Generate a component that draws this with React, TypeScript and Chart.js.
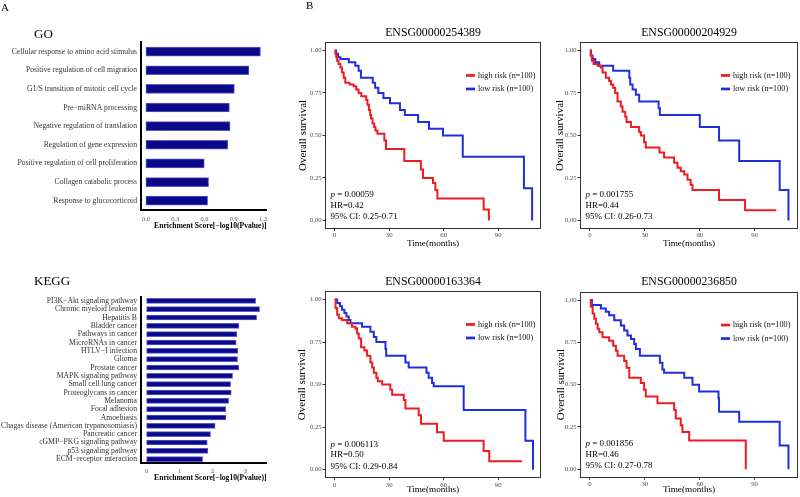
import React, { useEffect, useRef } from 'react';
import { Chart, registerables } from 'chart.js';

Chart.register(...registerables);

const SERIF = "'Liberation Serif', 'Times New Roman', Times, serif";
const RED = '#ec1c22';
const BLUE = '#1f2fdc';
const BAR_FILL = '#09098a';
const BAR_EDGE = '#5a5ac8';

// ---------- Panel A data ----------
const goCategories = [
  'Cellular response to amino acid stimulus',
  'Positive regulation of cell migration',
  'G1/S transition of mitotic cell cycle',
  'Pre\u2212miRNA processing',
  'Negative regulation of translation',
  'Regulation of gene expression',
  'Positive regulation of cell proliferation',
  'Collagen catabolic process',
  'Response to glucocorticoid',
];
const goScores = [1.173, 1.055, 0.906, 0.855, 0.862, 0.838, 0.598, 0.642, 0.632];
const goTicks = [0, 0.3, 0.6, 0.9, 1.2];

const keggCategories = [
  'PI3K\u2212Akt signaling pathway',
  'Chronic myeloid leukemia',
  'Hepatitis B',
  'Bladder cancer',
  'Pathways in cancer',
  'MicroRNAs in cancer',
  'HTLV\u2212I infection',
  'Glioma',
  'Prostate cancer',
  'MAPK signaling pathway',
  'Small cell lung cancer',
  'Proteoglycans in cancer',
  'Melanoma',
  'Focal adhesion',
  'Amoebiasis',
  'Chagas disease (American trypanosomiasis)',
  'Pancreatic cancer',
  'cGMP\u2212PKG signaling pathway',
  'p53 signaling pathway',
  'ECM\u2212receptor interaction',
];
const keggScores = [3.31, 3.43, 3.34, 2.8, 2.74, 2.72, 2.77, 2.76, 2.8, 2.61, 2.55, 2.57, 2.49, 2.4, 2.41, 2.08, 1.94, 1.84, 1.86, 1.7];
const keggTicks = [0, 1, 2, 3];

const enrichTitle = 'Enrichment Score[\u2212log10(Pvalue)]';

// ---------- Panel B data ----------
const kmXTicks = [0, 30, 60, 90];
const kmYTicks = [0, 0.25, 0.5, 0.75, 1];
const seriesLabels = ['high risk (n=100)', 'low risk (n=100)'];

const km1Title = 'ENSG00000254389';
const km1HighT = [0, 0.3, 0.8, 1.3, 2.0, 3.1, 4.0, 4.9, 5.8, 8.2, 10.4, 11.8, 13.1, 14.6, 17.3, 18.0, 18.8, 19.5, 20.0, 20.8, 21.7, 22.4, 23.5, 27.3, 28.2, 38.3, 47.4, 48.6, 54.1, 55.4, 56.5, 82.0, 84.9];
const km1HighS = [1, 0.98, 0.96, 0.94, 0.92, 0.9, 0.87, 0.84, 0.81, 0.8, 0.79, 0.77, 0.75, 0.73, 0.71, 0.68, 0.65, 0.62, 0.6, 0.57, 0.55, 0.53, 0.51, 0.47, 0.42, 0.35, 0.3, 0.25, 0.22, 0.18, 0.13, 0.065, 0];
const km1LowT = [0, 0.7, 1.8, 3.1, 7.7, 11.3, 13.1, 14.4, 20.9, 22.2, 24.0, 26.8, 30.4, 35.9, 38.6, 45.9, 51.9, 59.6, 70.5, 104.2, 108.7];
const km1LowS = [1, 0.98, 0.96, 0.95, 0.93, 0.91, 0.88, 0.84, 0.81, 0.78, 0.75, 0.72, 0.69, 0.65, 0.62, 0.58, 0.54, 0.5, 0.375, 0.19, 0];
const km1Stats = ['0.00059', 'HR=0.42', '95% CI: 0.25-0.71'];

const km2Title = 'ENSG00000204929';
const km2HighT = [0, 0.5, 1.1, 2.0, 4.2, 6.0, 6.9, 8.7, 10.5, 11.5, 12.7, 13.8, 15.1, 16.9, 17.8, 19.3, 20.0, 22.4, 26.9, 27.8, 29.6, 30.5, 38.0, 40.5, 46.0, 47.8, 49.6, 51.5, 53.3, 55.0, 56.0, 70.5, 84.7, 101.8];
const km2HighS = [1, 0.97, 0.94, 0.92, 0.91, 0.9, 0.87, 0.84, 0.82, 0.8, 0.78, 0.75, 0.7, 0.67, 0.64, 0.61, 0.58, 0.55, 0.52, 0.5, 0.46, 0.43, 0.4, 0.37, 0.34, 0.31, 0.29, 0.27, 0.24, 0.21, 0.18, 0.12, 0.06, 0.06];
const km2LowT = [0, 0.5, 1.5, 2.9, 5.1, 12.7, 21.5, 22.0, 23.3, 25.1, 26.9, 37.5, 38.2, 60.0, 70.5, 81.5, 103.6, 108.4];
const km2LowS = [1, 0.97, 0.95, 0.93, 0.91, 0.88, 0.84, 0.8, 0.77, 0.74, 0.7, 0.66, 0.62, 0.55, 0.47, 0.35, 0.18, 0];
const km2Stats = ['0.001755', 'HR=0.44', '95% CI: 0.26-0.73'];

const km3Title = 'ENSG00000163364';
const km3HighT = [0, 0.4, 1.3, 2.2, 4.0, 6.8, 9.5, 11.4, 12.3, 13.2, 14.5, 16.3, 17.8, 19.6, 20.6, 21.5, 22.9, 23.7, 26.1, 30.6, 31.6, 38.0, 38.9, 46.2, 47.5, 56.3, 60.0, 82.0, 85.1, 103.1];
const km3HighS = [1, 0.95, 0.91, 0.89, 0.88, 0.86, 0.84, 0.83, 0.8, 0.77, 0.72, 0.7, 0.67, 0.63, 0.6, 0.57, 0.54, 0.52, 0.5, 0.47, 0.44, 0.41, 0.36, 0.32, 0.27, 0.22, 0.17, 0.11, 0.05, 0.05];
const km3LowT = [0, 1.3, 2.8, 4.0, 5.3, 6.4, 7.7, 8.6, 15.0, 19.6, 21.5, 22.9, 27.9, 28.3, 38.9, 40.7, 50.5, 51.7, 53.6, 54.5, 71.0, 105.0, 109.2];
const km3LowS = [1, 0.98, 0.96, 0.94, 0.92, 0.9, 0.88, 0.86, 0.84, 0.81, 0.78, 0.75, 0.71, 0.67, 0.63, 0.6, 0.57, 0.54, 0.51, 0.49, 0.35, 0.17, 0];
const km3Stats = ['0.006113', 'HR=0.50', '95% CI: 0.29-0.84'];

const km4Title = 'ENSG00000236850';
const km4HighT = [0, 0.5, 1.5, 2.4, 3.3, 4.2, 5.1, 6.9, 10.5, 12.7, 14.2, 15.1, 18.7, 20.0, 21.5, 27.8, 29.6, 30.5, 36.9, 46.0, 46.9, 49.6, 50.5, 54.2, 85.1];
const km4HighS = [1, 0.96, 0.92, 0.89, 0.86, 0.83, 0.81, 0.78, 0.76, 0.73, 0.7, 0.67, 0.64, 0.6, 0.54, 0.51, 0.47, 0.43, 0.39, 0.35, 0.3, 0.26, 0.22, 0.17, 0];
const km4LowT = [0, 1.1, 6.0, 8.7, 10.5, 13.3, 16.9, 18.7, 20.5, 22.4, 24.2, 25.1, 27.3, 38.2, 39.6, 40.5, 51.5, 56.0, 59.6, 70.2, 70.5, 81.5, 103.6, 108.4];
const km4LowS = [1, 0.97, 0.95, 0.93, 0.91, 0.88, 0.85, 0.82, 0.79, 0.77, 0.74, 0.71, 0.67, 0.63, 0.59, 0.57, 0.54, 0.5, 0.46, 0.42, 0.34, 0.28, 0.14, 0];
const km4Stats = ['0.001856', 'HR=0.46', '95% CI: 0.27-0.78'];

// ---------- helpers ----------
type TextItem = { text: string; x: number; y: number; size: number };

function textPlugin(items: TextItem[]) {
  return {
    id: 'extraText',
    afterDraw(chart: any) {
      const ctx = chart.ctx;
      ctx.save();
      ctx.fillStyle = '#000';
      ctx.textAlign = 'left';
      ctx.textBaseline = 'middle';
      for (const it of items) {
        ctx.font = `${it.size}px ${SERIF}`;
        ctx.fillText(it.text, it.x, it.y);
      }
      ctx.restore();
    },
  };
}

function kmPlugin(stats: string[]) {
  return {
    id: 'kmDecor',
    afterDraw(chart: any) {
      const { ctx, chartArea: a } = chart;
      ctx.save();
      ctx.strokeStyle = '#333';
      ctx.lineWidth = 1;
      ctx.strokeRect(Math.round(a.left) + 0.5, Math.round(a.top) + 0.5, Math.round(a.right - a.left) - 1, Math.round(a.bottom - a.top) - 1);
      chart.data.datasets.forEach((ds: any, i: number) => {
        const y = a.top + 33.5 + i * 13.5;
        ctx.strokeStyle = ds.borderColor;
        ctx.lineWidth = 2.7;
        ctx.beginPath();
        ctx.moveTo(a.left + 141, y);
        ctx.lineTo(a.left + 150, y);
        ctx.stroke();
        ctx.fillStyle = '#111';
        ctx.font = `8.2px ${SERIF}`;
        ctx.textAlign = 'left';
        ctx.textBaseline = 'middle';
        ctx.fillText(ds.label, a.left + 153, y);
      });
      const x0 = a.left + 5.5;
      ctx.fillStyle = '#000';
      ctx.textAlign = 'left';
      ctx.textBaseline = 'middle';
      ctx.font = `italic 9px ${SERIF}`;
      ctx.fillText('p', x0, a.bottom - 34);
      const pw = ctx.measureText('p').width;
      ctx.font = `9px ${SERIF}`;
      ctx.fillText(' = ' + stats[0], x0 + pw, a.bottom - 34);
      ctx.fillText(stats[1], x0, a.bottom - 23.5);
      ctx.fillText(stats[2], x0, a.bottom - 12);
      ctx.restore();
    },
  };
}

function barConfig(p: any) {
  return {
    type: 'bar',
    data: {
      labels: p.cats,
      datasets: [
        {
          data: p.vals,
          backgroundColor: BAR_FILL,
          borderColor: BAR_EDGE,
          borderWidth: 1,
          borderSkipped: false,
          barThickness: p.barThickness,
        },
      ],
    },
    options: {
      indexAxis: 'y',
      animation: false,
      responsive: false,
      events: [],
      layout: { padding: { left: 0, right: 13.5, top: p.areaTop, bottom: 0 } },
      plugins: {
        legend: { display: false },
        tooltip: { enabled: false },
        title: { display: false },
      },
      scales: {
        x: {
          type: 'linear',
          min: p.min,
          max: p.max,
          afterBuildTicks: (s: any) => {
            s.ticks = p.ticks.map((v: number) => ({ value: v }));
          },
          afterFit: (s: any) => {
            s.height = p.xHeight;
          },
          grid: { display: false, drawTicks: false },
          border: { display: true, color: '#000', width: 2 },
          ticks: {
            color: '#555',
            font: { family: SERIF, size: 6.4 },
            padding: p.tickPad,
            maxRotation: 0,
            autoSkip: false,
            callback: p.fmt,
          },
          title: {
            display: true,
            text: enrichTitle,
            align: 'end',
            color: '#000',
            font: { family: SERIF, size: 7.6, weight: 'bold' },
            padding: { top: 0, bottom: p.xTitleBottom },
          },
        },
        y: {
          afterFit: (s: any) => {
            s.width = 141;
          },
          grid: { display: false, drawTicks: false },
          border: { display: true, color: '#000', width: 2 },
          ticks: {
            color: '#333',
            font: { family: SERIF, size: 7.7 },
            padding: 4,
            autoSkip: false,
          },
        },
      },
    },
    plugins: [textPlugin(p.extra || [])],
  };
}

function toPts(t: number[], s: number[]) {
  return t.map((x, i) => ({ x, y: s[i] }));
}

function kmConfig(p: any) {
  const line = (label: string, data: any, color: string) => ({
    label,
    data,
    borderColor: color,
    backgroundColor: color,
    borderWidth: 2,
    pointRadius: 0,
    stepped: true,
    fill: false,
    tension: 0,
  });
  return {
    type: 'line',
    data: {
      datasets: [
        line(seriesLabels[0], toPts(p.highT, p.highS), RED),
        line(seriesLabels[1], toPts(p.lowT, p.lowS), BLUE),
      ],
    },
    options: {
      animation: false,
      responsive: false,
      events: [],
      layout: { padding: { left: 0, right: p.padRight, top: 0, bottom: 0 } },
      plugins: {
        legend: { display: false },
        tooltip: { enabled: false },
        title: {
          display: true,
          text: p.title,
          fullSize: false,
          color: '#000',
          font: { family: SERIF, size: 11.8, weight: 'normal' },
          padding: { top: p.titleTop, bottom: p.titleBottom },
        },
      },
      scales: {
        x: {
          type: 'linear',
          min: -5.4,
          max: 113.6,
          afterBuildTicks: (s: any) => {
            s.ticks = kmXTicks.map((v) => ({ value: v }));
          },
          afterFit: (s: any) => {
            s.height = p.xHeight;
          },
          grid: { display: true, drawOnChartArea: false, drawTicks: true, tickLength: 2, color: '#333' },
          border: { display: false },
          ticks: {
            color: '#4d4d4d',
            font: { family: SERIF, size: 6.8 },
            padding: 0.5,
            maxRotation: 0,
            autoSkip: false,
          },
          title: {
            display: true,
            text: 'Time(months)',
            color: '#000',
            font: { family: SERIF, size: 9.2 },
            padding: { top: 0, bottom: p.xTitleBottom },
          },
        },
        y: {
          type: 'linear',
          min: -0.05,
          max: 1.05,
          afterBuildTicks: (s: any) => {
            s.ticks = kmYTicks.map((v) => ({ value: v }));
          },
          afterFit: (s: any) => {
            s.width = 32;
          },
          grid: { display: true, drawOnChartArea: false, drawTicks: true, tickLength: 2.5, color: '#333' },
          border: { display: false },
          ticks: {
            color: '#4d4d4d',
            font: { family: SERIF, size: 6.6 },
            padding: 1,
            autoSkip: false,
            callback: (v: any) => Number(v).toFixed(2),
          },
          title: {
            display: true,
            text: 'Overall survival',
            color: '#000',
            font: { family: SERIF, size: 11 },
            padding: { top: p.yTitleTop, bottom: 0 },
          },
        },
      },
    },
    plugins: [kmPlugin(p.stats), textPlugin(p.extra || [])],
  };
}

function ChartBox(props: { left: number; top: number; width: number; height: number; config: () => any }) {
  const ref = useRef<HTMLCanvasElement>(null);
  useEffect(() => {
    const chart = new Chart(ref.current as HTMLCanvasElement, props.config());
    return () => chart.destroy();
  }, []);
  return (
    <canvas
      ref={ref}
      width={props.width}
      height={props.height}
      style={{ position: 'absolute', left: props.left, top: props.top, width: props.width, height: props.height }}
    />
  );
}

export default function App() {
  return (
    <div style={{ position: 'absolute', left: 0, top: 0, width: 800, height: 497, background: '#fff', overflow: 'hidden' }}>
      <ChartBox
        left={0}
        top={0}
        width={280}
        height={240}
        config={() =>
          barConfig({
            cats: goCategories,
            vals: goScores,
            min: -0.05,
            max: 1.235,
            ticks: goTicks,
            fmt: (v: any) => Number(v).toFixed(1),
            areaTop: 42.3,
            xHeight: 30,
            tickPad: 5,
            xTitleBottom: 9.5,
            barThickness: 9,
            extra: [
              { text: 'A', x: 1, y: 8, size: 11 },
              { text: 'GO', x: 34, y: 35, size: 13 },
            ],
          })
        }
      />
      <ChartBox
        left={0}
        top={250}
        width={280}
        height={247}
        config={() =>
          barConfig({
            cats: keggCategories,
            vals: keggScores,
            min: -0.17,
            max: 3.64,
            ticks: keggTicks,
            fmt: (v: any) => String(v),
            areaTop: 46.7,
            xHeight: 33.7,
            tickPad: 4.6,
            xTitleBottom: 14,
            barThickness: 5,
            extra: [{ text: 'KEGG', x: 34, y: 31.7, size: 13 }],
          })
        }
      />
      <ChartBox
        left={293}
        top={0}
        width={252}
        height={250}
        config={() =>
          kmConfig({
            title: km1Title,
            highT: km1HighT,
            highS: km1HighS,
            lowT: km1LowT,
            lowS: km1LowS,
            stats: km1Stats,
            padRight: 4,
            titleTop: 25.9,
            titleBottom: 1.9,
            xHeight: 21,
            xTitleBottom: 1.3,
            yTitleTop: 3.2,
            extra: [{ text: 'B', x: 13, y: 6, size: 11 }],
          })
        }
      />
      <ChartBox
        left={548}
        top={0}
        width={252}
        height={250}
        config={() =>
          kmConfig({
            title: km2Title,
            highT: km2HighT,
            highS: km2HighS,
            lowT: km2LowT,
            lowS: km2LowS,
            stats: km2Stats,
            padRight: 2,
            titleTop: 25.9,
            titleBottom: 1.9,
            xHeight: 21,
            xTitleBottom: 1.3,
            yTitleTop: 6,
          })
        }
      />
      <ChartBox
        left={293}
        top={250}
        width={252}
        height={247}
        config={() =>
          kmConfig({
            title: km3Title,
            highT: km3HighT,
            highS: km3HighS,
            lowT: km3LowT,
            lowS: km3LowS,
            stats: km3Stats,
            padRight: 4,
            titleTop: 24.6,
            titleBottom: 2.2,
            xHeight: 18.8,
            xTitleBottom: 1.6,
            yTitleTop: 3,
          })
        }
      />
      <ChartBox
        left={548}
        top={250}
        width={252}
        height={247}
        config={() =>
          kmConfig({
            title: km4Title,
            highT: km4HighT,
            highS: km4HighS,
            lowT: km4LowT,
            lowS: km4LowS,
            stats: km4Stats,
            padRight: 2,
            titleTop: 25.2,
            titleBottom: 2.2,
            xHeight: 19.3,
            xTitleBottom: 1.6,
            yTitleTop: 6.5,
          })
        }
      />
    </div>
  );
}
